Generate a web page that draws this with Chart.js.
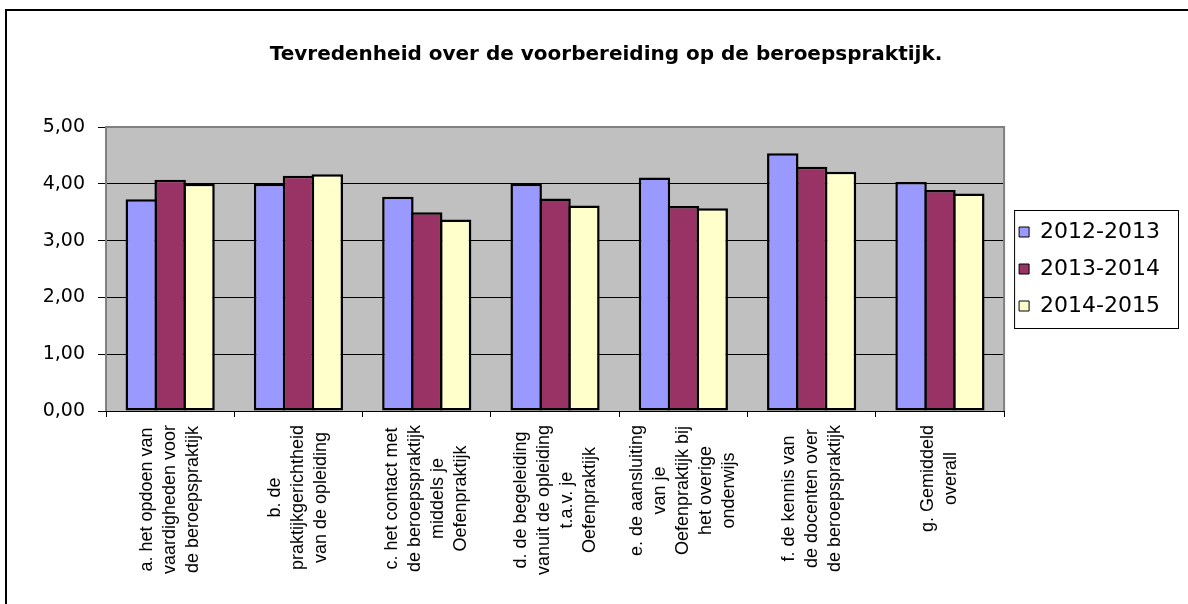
<!DOCTYPE html>
<html lang="nl">
<head>
  <meta charset="UTF-8">
  <title>Tevredenheid over de voorbereiding op de beroepspraktijk</title>
  <script src="https://cdn.jsdelivr.net/npm/chart.js"></script>
  <style>
    body {
      margin: 0;
      padding: 0;
      background: #fff;
      overflow: hidden;
    }
    #wrap {
      position: relative;
      width: 1188px;
      height: 604px;
    }
    /* rand linksboven, zoals in het origineel */
    #rand {
      position: absolute;
      left: 5px;
      top: 9px;
      width: 1200px;
      height: 700px;
      border-top: 2px solid #000;
      border-left: 2px solid #000;
      pointer-events: none;
    }
  </style>
</head>
<body>
  <div id="wrap">
    <canvas id="grafiek" width="1188" height="604"></canvas>
    <div id="rand"></div>
  </div>

  <script>
    // categorieen (regels van elk label)
    const categories = [
      ['a. het opdoen van', 'vaardigheden voor', 'de beroepspraktijk'],
      ['b. de', 'praktijkgerichtheid', 'van de opleiding'],
      ['c. het contact met', 'de beroepspraktijk', 'middels je', 'Oefenpraktijk'],
      ['d. de begeleiding', 'vanuit de opleiding', 't.a.v. je', 'Oefenpraktijk'],
      ['e. de aansluiting', 'van je', 'Oefenpraktijk bij', 'het overige', 'onderwijs'],
      ['f. de kennis van', 'de docenten over', 'de beroepspraktijk'],
      ['g. Gemiddeld', 'overall']
    ];
    const seriesNames = ['2012-2013', '2013-2014', '2014-2015'];
    const values2012 = [3.73, 4.00, 3.77, 4.00, 4.11, 4.54, 4.03];
    const values2013 = [4.07, 4.14, 3.50, 3.74, 3.61, 4.30, 3.89];
    const values2014 = [4.00, 4.17, 3.37, 3.62, 3.57, 4.21, 3.83];
    const yTicks = [0, 1, 2, 3, 4, 5];

    const colors = ['#9999FF', '#993366', '#FFFFCC'];

    // grijze achtergrond van het plotvlak
    const plotArea = {
      id: 'plotArea',
      beforeDraw(chart) {
        const a = chart.chartArea;
        const ctx = chart.ctx;
        ctx.save();
        ctx.fillStyle = '#C0C0C0';
        ctx.fillRect(a.left, a.top, a.right - a.left, a.bottom - a.top);
        ctx.restore();
      },
      beforeDatasetsDraw(chart) {
        const a = chart.chartArea;
        const ctx = chart.ctx;
        ctx.save();
        ctx.strokeStyle = '#808080';
        ctx.lineWidth = 2;
        ctx.beginPath();
        ctx.moveTo(a.left, a.bottom);
        ctx.lineTo(a.left, a.top);
        ctx.lineTo(a.right, a.top);
        ctx.lineTo(a.right, a.bottom);
        ctx.stroke();
        ctx.restore();
      }
    };

    // gedraaide, gecentreerde categorielabels onder de x-as
    const xLabels = {
      id: 'xLabels',
      afterDraw(chart) {
        const xs = chart.scales.x;
        const ctx = chart.ctx;
        ctx.save();
        ctx.font = '18px "Liberation Sans", Arial, sans-serif';
        ctx.fillStyle = '#000';
        ctx.textAlign = 'center';
        ctx.textBaseline = 'middle';
        categories.forEach((lines, i) => {
          const cx = xs.getPixelForValue(i);
          const w = Math.max(...lines.map(l => ctx.measureText(l).width));
          const cy = xs.bottom + 8 + w / 2;
          lines.forEach((l, j) => {
            const lx = cx + (j - (lines.length - 1) / 2) * 23;
            ctx.save();
            ctx.translate(lx, cy);
            ctx.rotate(-Math.PI / 2);
            ctx.fillText(l, 0, 0);
            ctx.restore();
          });
        });
        ctx.restore();
      }
    };

    // kader om de legenda
    const legendBox = {
      id: 'legendBox',
      afterDraw(chart) {
        const hb = chart.legend.legendHitBoxes;
        if (!hb || !hb.length) return;
        const ctx = chart.ctx;
        const top = hb[0].top - 11;
        const bottom = hb[hb.length - 1].top + hb[hb.length - 1].height + 11;
        const left = hb[0].left - 5;
        const right = 1178;
        ctx.save();
        ctx.strokeStyle = '#000';
        ctx.lineWidth = 1;
        ctx.strokeRect(left + 0.5, top + 0.5, right - left, bottom - top);
        ctx.restore();
      }
    };

    const ctx = document.getElementById('grafiek').getContext('2d');
    new Chart(ctx, {
      type: 'bar',
      data: {
        labels: categories,
        datasets: [values2012, values2013, values2014].map((vals, i) => ({
          label: seriesNames[i],
          data: vals,
          backgroundColor: colors[i],
          borderColor: '#000',
          borderWidth: 2.5,
          borderSkipped: false,
          barPercentage: 1.09,
          categoryPercentage: 0.675
        }))
      },
      options: {
        responsive: false,
        animation: false,
        devicePixelRatio: 1,
        layout: {
          padding: { left: 42, right: 18, top: 0, bottom: 187 }
        },
        plugins: {
          title: {
            display: true,
            text: 'Tevredenheid over de voorbereiding op de beroepspraktijk.',
            color: '#000',
            font: { family: '"DejaVu Sans", sans-serif', size: 20, weight: 'bold' },
            padding: { top: 43, bottom: 60 }
          },
          legend: {
            position: 'right',
            align: 'center',
            fullSize: false,
            labels: {
              color: '#000',
              font: { family: '"DejaVu Sans", sans-serif', size: 22 },
              boxWidth: 10,
              boxHeight: 10,
              padding: 15,
              generateLabels: chart =>
                Chart.defaults.plugins.legend.labels.generateLabels(chart)
                  .map(l => Object.assign(l, { lineWidth: 1, strokeStyle: '#000' }))
            }
          },
          tooltip: { enabled: false }
        },
        scales: {
          x: {
            ticks: { display: false },
            grid: {
              offset: true,
              drawOnChartArea: false,
              drawTicks: true,
              tickLength: 6,
              color: '#000'
            },
            border: { display: true, color: '#000', width: 1 }
          },
          y: {
            min: yTicks[0],
            max: yTicks[yTicks.length - 1],
            afterFit: s => { s.width = 64; },
            afterBuildTicks: s => { s.ticks = yTicks.map(v => ({ value: v })); },
            ticks: {
              color: '#000',
              padding: 13,
              font: { family: '"DejaVu Sans", sans-serif', size: 19 },
              callback: v => v.toFixed(2).replace('.', ',')
            },
            grid: { color: '#000', lineWidth: 1, tickLength: 8 },
            border: { display: false }
          }
        }
      },
      plugins: [plotArea, xLabels, legendBox]
    });
  </script>
</body>
</html>
